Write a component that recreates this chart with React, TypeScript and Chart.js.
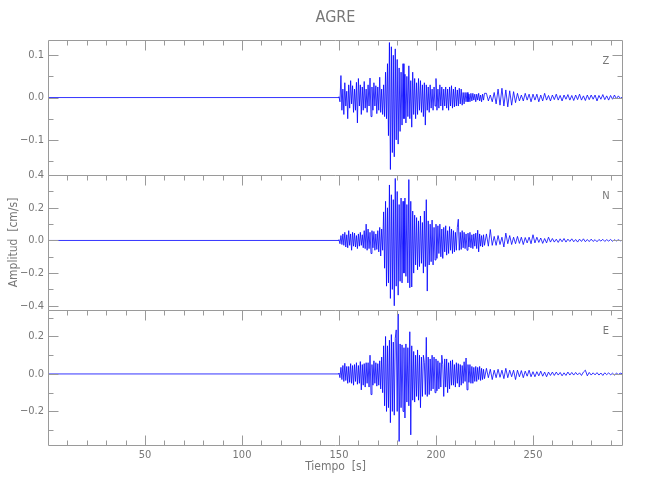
import React, { useEffect, useRef } from "react";
import { Chart, registerables } from "chart.js";

Chart.register(...registerables);

// ---------- data ----------
const TITLE = "AGRE";
const X_LABEL = "Tiempo  [s]";
const Y_LABEL = "Amplitud  [cm/s]";
const X_MIN = 0;
const X_MAX = 296.4;
const X_TICKS = [50, 100, 150, 200, 250];

// sampling of the records (seconds)
const PRE_TIMES = [0, 149.5];
const BURST_START = 150;
const BURST_STEP = 0.5;
const CODA_START = 226;
const CODA_STEP = 1;

const PANEL_NAMES = ["Z", "N", "E"];

// Z component (cm/s): 150.0 .. 225.0 every 0.5 s
const Z_PRE = [0, 0];
const Z_BURST = [
  0.002, -0.01, 0.052, -0.03, 0.02, -0.04, 0.035, -0.02, 0.015, -0.05,
  0.03, -0.025, 0.04, -0.015, 0.028, -0.035, 0.02, -0.03, 0.036, -0.06,
  0.045, -0.02, 0.03, -0.04, 0.025, -0.03, 0.038, -0.025, 0.02, -0.035,
  0.03, -0.02, 0.046, -0.045, 0.025, -0.03, 0.035, -0.02, 0.028, -0.038,
  0.025, -0.03, 0.048, -0.035, 0.02, -0.04, 0.03, -0.045, 0.06, -0.05,
  0.08, -0.09, 0.13, -0.17, 0.12, -0.13, 0.1, -0.14, 0.115, -0.1,
  0.09, -0.11, 0.07, -0.08, 0.06, -0.065, 0.08, -0.05, 0.055, -0.06,
  0.05, -0.045, 0.075, -0.05, 0.04, -0.07, 0.06, -0.04, 0.045, -0.05,
  0.035, -0.04, 0.045, -0.03, 0.04, -0.035, 0.03, -0.045, 0.035, -0.065,
  0.03, -0.03, 0.025, -0.035, 0.03, -0.025, 0.02, -0.03, 0.025, -0.02,
  0.045, -0.03, 0.02, -0.025, 0.03, -0.02, 0.025, -0.03, 0.02, -0.02,
  0.025, -0.025, 0.02, -0.03, 0.025, -0.02, 0.028, -0.025, 0.02, -0.022,
  0.025, -0.02, 0.018, -0.02, 0.022, -0.015, 0.02, -0.018, 0.012, -0.015,
  0.012, -0.01, 0.012, -0.01, 0.008, -0.01, 0.01, -0.008, 0.01, -0.006,
  0.008, -0.01, 0.008, -0.006, 0.01, -0.008, 0.006, -0.01, 0.008, -0.006,
  0.01,
];
// Z: 226 .. 296 every 1 s
const Z_CODA = [
  0.01, -0.008, 0.006, -0.01, 0.012,
  -0.015, 0.02, -0.018, 0.022, -0.02, 0.018, -0.022, 0.016, -0.018, 0.014,
  -0.012, 0.01, -0.008, 0.006, -0.008, 0.01, -0.006, 0.008, -0.01, 0.008,
  -0.006, 0.008, -0.01, 0.006, -0.008, 0.01, -0.006, 0.005, -0.008, 0.006,
  -0.005, 0.008, -0.006, 0.005, -0.008, 0.006, -0.004, 0.007, -0.006, 0.005,
  -0.007, 0.006, -0.005, 0.008, -0.006, 0.004, -0.007, 0.006, -0.005, 0.006,
  -0.004, 0.006, -0.008, 0.005, -0.004, 0.007, -0.005, 0.004, -0.006, 0.005,
  -0.004, 0.006, -0.003, 0.004, -0.002, 0.001,
];

// N component (cm/s)
const N_PRE = [0, 0];
const N_BURST = [
  0.005, -0.02, 0.03, -0.025, 0.04, -0.03, 0.05, -0.04, 0.035, -0.045,
  0.06, -0.03, 0.04, -0.06, 0.05, -0.035, 0.045, -0.04, 0.03, -0.05,
  0.04, -0.035, 0.05, -0.03, 0.035, -0.045, 0.06, -0.05, 0.1, -0.06,
  0.07, -0.05, 0.05, -0.08, 0.06, -0.045, 0.055, -0.06, 0.04, -0.055,
  0.06, -0.07, 0.08, -0.095, 0.07, -0.06, 0.175, -0.17, 0.24, -0.28,
  0.2, -0.26, 0.34, -0.355, 0.28, -0.3, 0.25, -0.4, 0.38, -0.28,
  0.3, -0.335, 0.22, -0.25, 0.26, -0.26, 0.24, -0.2, 0.26, -0.22,
  0.22, -0.26, 0.373, -0.29, 0.24, -0.285, 0.18, -0.2, 0.155, -0.15,
  0.14, -0.18, 0.12, -0.16, 0.15, -0.14, 0.11, -0.2, 0.18, -0.16,
  0.25, -0.31, 0.12, -0.15, 0.1, -0.13, 0.125, -0.15, 0.08, -0.12,
  0.1, -0.11, 0.09, -0.08, 0.1, -0.1, 0.07, -0.11, 0.08, -0.07,
  0.09, -0.09, 0.06, -0.08, 0.085, -0.06, 0.07, -0.08, 0.06, -0.07,
  0.05, -0.06, 0.08, 0.13, -0.06, 0.05, -0.055, 0.06, -0.045, 0.05,
  -0.05, 0.04, -0.06, 0.045, -0.04, 0.05, -0.045, 0.035, -0.05, 0.04,
  -0.035, 0.045, -0.05, 0.063, -0.07, 0.04, -0.035, 0.03, -0.04, 0.035,
  -0.03,
];
const N_CODA = [
  0.04, -0.035, 0.067, -0.03, 0.025,
  -0.03, 0.03, -0.025, 0.02, -0.04, 0.045, -0.02, 0.03, -0.025, 0.02,
  -0.02, 0.025, -0.018, 0.02, -0.025, 0.018, -0.015, 0.02, -0.02, 0.035,
  -0.015, 0.02, -0.012, 0.015, -0.018, 0.012, -0.015, 0.02, -0.01, 0.012,
  -0.01, 0.008, -0.012, 0.01, -0.008, 0.012, -0.01, 0.008, -0.006, 0.01,
  -0.008, 0.006, -0.01, 0.008, -0.006, 0.01, -0.008, 0.006, -0.007, 0.008,
  -0.006, 0.005, -0.008, 0.006, -0.004, 0.007, -0.006, 0.005, -0.004, 0.006,
  -0.005, 0.004, -0.003, 0.004, -0.002, 0.001,
];

// E component (cm/s)
const E_PRE = [0, 0];
const E_BURST = [
  0.005, -0.02, 0.035, -0.03, 0.045, -0.04, 0.057, -0.035, 0.04, -0.05,
  0.04, -0.045, 0.055, -0.05, 0.045, -0.06, 0.05, -0.04, 0.06, -0.055,
  0.045, -0.05, 0.066, -0.085, 0.05, -0.06, 0.055, -0.07, 0.06, -0.05,
  0.06, -0.07, 0.1, -0.11, 0.05, -0.06, 0.07, -0.05, 0.06, -0.065,
  0.055, -0.06, 0.07, -0.08, 0.09, -0.1, 0.15, -0.17, 0.2, -0.2,
  0.15, -0.18, 0.18, -0.26, 0.21, -0.2, 0.17, -0.22, 0.19, 0.235,
  -0.2, 0.32, -0.36, 0.16, -0.18, 0.155, -0.2, 0.14, -0.235, 0.16,
  -0.15, 0.14, -0.17, 0.225, -0.325, 0.15, -0.14, 0.12, -0.15, 0.1,
  -0.12, 0.128, -0.14, 0.1, -0.18, 0.09, -0.12, 0.1, 0.06, -0.11,
  0.195, -0.12, 0.09, -0.11, 0.08, -0.09, 0.1, -0.08, 0.09, -0.1,
  0.08, -0.09, 0.07, -0.08, 0.06, -0.07, 0.1, 0.05, -0.12, 0.08,
  -0.07, 0.08, -0.1, 0.06, -0.08, 0.07, -0.06, 0.075, -0.06, 0.05,
  -0.07, 0.06, -0.05, 0.055, -0.07, 0.05, -0.06, 0.045, -0.05, 0.065,
  -0.04, 0.085, -0.085, 0.05, -0.045, 0.05, -0.05, 0.04, -0.05, 0.035,
  -0.04, 0.04, -0.04, 0.035, -0.03, 0.04, -0.035, 0.03, -0.03, 0.025,
  -0.025,
];
const E_CODA = [
  0.03, -0.02, 0.025, -0.03, 0.02,
  -0.02, 0.025, -0.018, 0.02, -0.025, 0.03, -0.02, 0.02, -0.015, 0.02,
  -0.03, 0.02, -0.015, 0.018, -0.02, 0.015, -0.012, 0.02, -0.015, 0.012,
  -0.015, 0.012, -0.01, 0.015, -0.012, 0.01, -0.015, 0.01, -0.008, 0.01,
  -0.008, 0.01, -0.006, 0.008, -0.01, 0.006, -0.008, 0.01, -0.006, 0.008,
  -0.006, 0.008, -0.005, 0.006, -0.008, 0.01, 0.02, -0.01, 0.008, -0.006,
  0.006, -0.005, 0.007, -0.006, 0.005, -0.008, 0.006, -0.004, 0.006, -0.005,
  0.004, -0.006, 0.004, -0.003, 0.004, 0.001,
];

// axis ranges and ticks per panel
const Z_RANGE = [-0.183, 0.136];
const N_RANGE = [-0.426, 0.401];
const E_RANGE = [-0.379, 0.341];
const Z_MAJOR = [-0.1, 0, 0.1];
const Z_MINOR = [-0.15, -0.05, 0.05];
const N_MAJOR = [-0.4, -0.2, 0, 0.2, 0.4];
const N_MINOR = [-0.3, -0.1, 0.1, 0.3];
const E_MAJOR = [-0.2, 0, 0.2];
const E_MINOR = [-0.3, -0.1, 0.1, 0.3];
const X_MINOR_STEP = 10;

// ---------- styles ----------
const FONT = "'Liberation Sans Narrow', 'DejaVu Sans Condensed', 'Arial Narrow', sans-serif";
const AXIS_COLOR = "#9a9a9a";
const TEXT_COLOR = "#777777";
const LINE_COLOR = "#0000ff";

function toPoints(pre: number[], burst: number[], coda: number[]) {
  const pts: { x: number; y: number }[] = [];
  PRE_TIMES.forEach((t, i) => pts.push({ x: t, y: pre[i] }));
  burst.forEach((v, i) => pts.push({ x: BURST_START + i * BURST_STEP, y: v }));
  coda.forEach((v, i) => pts.push({ x: CODA_START + i * CODA_STEP, y: v }));
  return pts;
}

const fmt = (v: number) => {
  const s = Math.abs(v) < 1e-9 ? "0.0" : Math.abs(v).toFixed(1);
  return v < -1e-9 ? "\u2212" + s : s;
};

const PANELS = [
  { id: "yZ", name: PANEL_NAMES[0], range: Z_RANGE, major: Z_MAJOR, minor: Z_MINOR, weight: 3 },
  { id: "yN", name: PANEL_NAMES[1], range: N_RANGE, major: N_MAJOR, minor: N_MINOR, weight: 2 },
  { id: "yE", name: PANEL_NAMES[2], range: E_RANGE, major: E_MAJOR, minor: E_MINOR, weight: 1 },
];

const framePlugin = {
  id: "frame",
  afterDraw(chart: any) {
    const { ctx, chartArea: ca, scales } = chart;
    const xs = scales.x;
    const L = Math.round(ca.left) + 0.5;
    const R = Math.round(ca.right) - 0.5;
    ctx.save();
    ctx.strokeStyle = AXIS_COLOR;
    ctx.lineWidth = 1;
    PANELS.forEach((p, idx) => {
      const s = scales[p.id];
      const top = Math.round(s.top) + 0.5;
      const bot = Math.round(s.bottom) + 0.5;
      ctx.beginPath();
      ctx.moveTo(L, top);
      ctx.lineTo(R, top);
      ctx.moveTo(L, top);
      ctx.lineTo(L, bot);
      ctx.moveTo(R, top);
      ctx.lineTo(R, bot);
      if (idx === PANELS.length - 1) {
        ctx.moveTo(L, bot);
        ctx.lineTo(R, bot);
      }
      for (let v = X_MINOR_STEP; v < X_MAX; v += X_MINOR_STEP) {
        const px = Math.round(xs.getPixelForValue(v)) + 0.5;
        const len = v % 50 === 0 ? 10 : 5;
        ctx.moveTo(px, top);
        ctx.lineTo(px, top + len);
        if (idx === PANELS.length - 1) {
          ctx.moveTo(px, bot);
          ctx.lineTo(px, bot - len);
        }
      }
      const yTick = (v: number, len: number) => {
        const py = Math.round(s.getPixelForValue(v)) + 0.5;
        ctx.moveTo(L, py);
        ctx.lineTo(L + len, py);
        ctx.moveTo(R, py);
        ctx.lineTo(R - len, py);
      };
      p.major.forEach((v) => yTick(v, 10));
      p.minor.forEach((v) => yTick(v, 5));
      ctx.stroke();

      ctx.fillStyle = TEXT_COLOR;
      ctx.font = `11px ${FONT}`;
      ctx.textAlign = "center";
      ctx.textBaseline = "middle";
      ctx.fillText(p.name, ca.right - 17, s.top + 21);
    });

    ctx.fillStyle = TEXT_COLOR;
    ctx.font = `16px ${FONT}`;
    ctx.textAlign = "center";
    ctx.textBaseline = "middle";
    ctx.fillText(TITLE, (ca.left + ca.right) / 2, 18);

    ctx.font = `12px ${FONT}`;
    ctx.fillText(X_LABEL, (ca.left + ca.right) / 2, 467);
    ctx.save();
    ctx.translate(14, (ca.top + ca.bottom) / 2);
    ctx.rotate(-Math.PI / 2);
    ctx.fillText(Y_LABEL, 0, 0);
    ctx.restore();
    ctx.restore();
  },
};

export default function App() {
  const ref = useRef<HTMLCanvasElement | null>(null);
  useEffect(() => {
    if (!ref.current) return;
    const yScales: any = {};
    PANELS.forEach((p) => {
      yScales[p.id] = {
        type: "linear",
        position: "left",
        stack: "panels",
        stackWeight: 1,
        weight: p.weight,
        min: p.range[0],
        max: p.range[1],
        offset: false,
        grid: { display: false, drawTicks: false },
        border: { display: false },
        ticks: {
          color: TEXT_COLOR,
          font: { family: FONT, size: 11 },
          padding: 4,
          autoSkip: false,
          callback: (v: number) => fmt(v),
        },
        afterBuildTicks: (s: any) => {
          s.ticks = p.major.map((v) => ({ value: v }));
        },
        afterFit: (s: any) => {
          s.width = 48;
        },
      };
    });
    const datasets = [
      { data: toPoints(Z_PRE, Z_BURST, Z_CODA), yAxisID: "yZ" },
      { data: toPoints(N_PRE, N_BURST, N_CODA), yAxisID: "yN" },
      { data: toPoints(E_PRE, E_BURST, E_CODA), yAxisID: "yE" },
    ].map((d) => ({
      ...d,
      borderColor: LINE_COLOR,
      borderWidth: 0.8,
      pointRadius: 0,
      tension: 0,
      fill: false,
      clip: false as any,
    }));
    const chart = new Chart(ref.current, {
      type: "line",
      data: { datasets },
      options: {
        animation: false,
        responsive: false,
        maintainAspectRatio: false,
        devicePixelRatio: 1,
        events: [],
        layout: { padding: { left: 0, right: 27, top: 40, bottom: 0 } },
        plugins: { legend: { display: false }, tooltip: { enabled: false }, title: { display: false } },
        scales: {
          x: {
            type: "linear",
            position: "bottom",
            min: X_MIN,
            max: X_MAX,
            grid: { display: false, drawTicks: false },
            border: { display: false },
            ticks: {
              color: TEXT_COLOR,
              font: { family: FONT, size: 11 },
              padding: 4,
              autoSkip: false,
              maxRotation: 0,
              callback: (v: number) => String(v),
            },
            afterBuildTicks: (s: any) => {
              s.ticks = X_TICKS.map((v) => ({ value: v }));
            },
            afterFit: (s: any) => {
              s.height = 55;
            },
          },
          ...yScales,
        },
      } as any,
      plugins: [framePlugin],
    });
    return () => chart.destroy();
  }, []);
  return (
    <div style={{ position: "fixed", left: 0, top: 0, width: 650, height: 500, background: "#fff" }}>
      <canvas ref={ref} width={650} height={500} style={{ width: 650, height: 500, display: "block" }} />
    </div>
  );
}
